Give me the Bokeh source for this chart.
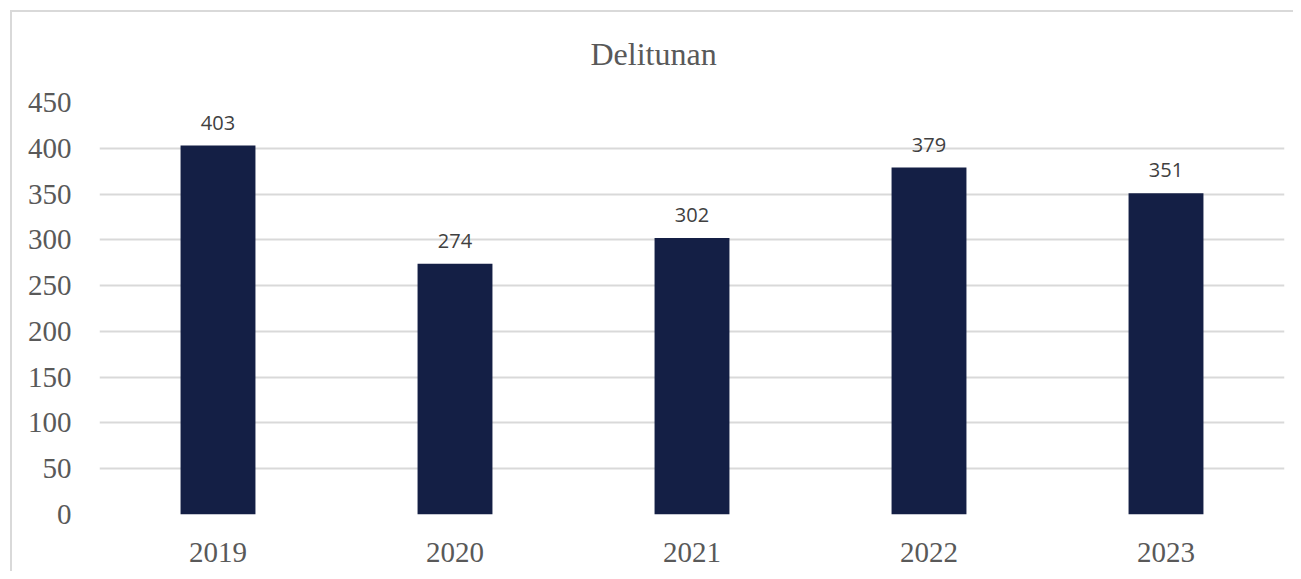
from bokeh.plotting import figure
from bokeh.models import ColumnDataSource, FixedTicker, Range1d, Title
from bokeh.core.properties import value
from bokeh.embed import file_html
from bokeh.resources import INLINE

years = ["2019", "2020", "2021", "2022", "2023"]
counts = [403, 274, 302, 379, 351]
y_ticks = [0, 50, 100, 150, 200, 250, 300, 350, 400, 450]
title_text = "Delitunan"

src = ColumnDataSource(dict(years=years, counts=counts, labels=[str(c) for c in counts]))

p = figure(x_range=years, y_range=Range1d(0, 450), width=1293, height=571,
           output_backend="svg", toolbar_location=None,
           min_border_left=99, min_border_right=9, min_border_top=102, min_border_bottom=57)
p.title = None
t = Title(text=title_text, align="left", offset=491, text_font="Liberation Serif",
          text_font_size="32px", text_font_style="normal", text_color="#595959", standoff=62)
p.add_layout(t, "above")

p.vbar(x="years", top="counts", width=0.316, source=src, color="#141f45", line_color=None)
p.text(x="years", y="counts", text="labels", source=src, text_align="center",
       text_baseline="middle", y_offset=-23, text_font=value("Open Sans"),
       text_font_size="20px", text_color="#404040")

p.outline_line_color = None
p.background_fill_color = None
p.border_fill_color = None
p.xgrid.grid_line_color = None
p.ygrid.grid_line_color = "#d9d9d9"
p.ygrid.grid_line_width = 2
p.yaxis.ticker = FixedTicker(ticks=y_ticks)
for ax in (p.xaxis, p.yaxis):
    ax.axis_line_color = None
    ax.major_tick_line_color = None
    ax.minor_tick_line_color = None
    ax.major_label_text_font = "Liberation Serif"
    ax.major_label_text_font_size = "29px"
    ax.major_label_text_color = "#595959"
p.yaxis.major_label_standoff = 22
p.xaxis.major_label_standoff = 22

p.styles = {
    "background": ("linear-gradient(#d9d9d9, #d9d9d9) 10px 10px / 2px 100% no-repeat, "
                   "linear-gradient(#d9d9d9, #d9d9d9) 10px 10px / 100% 2px no-repeat, #ffffff"),
}

open("out.html", "w").write(file_html(p, INLINE))
